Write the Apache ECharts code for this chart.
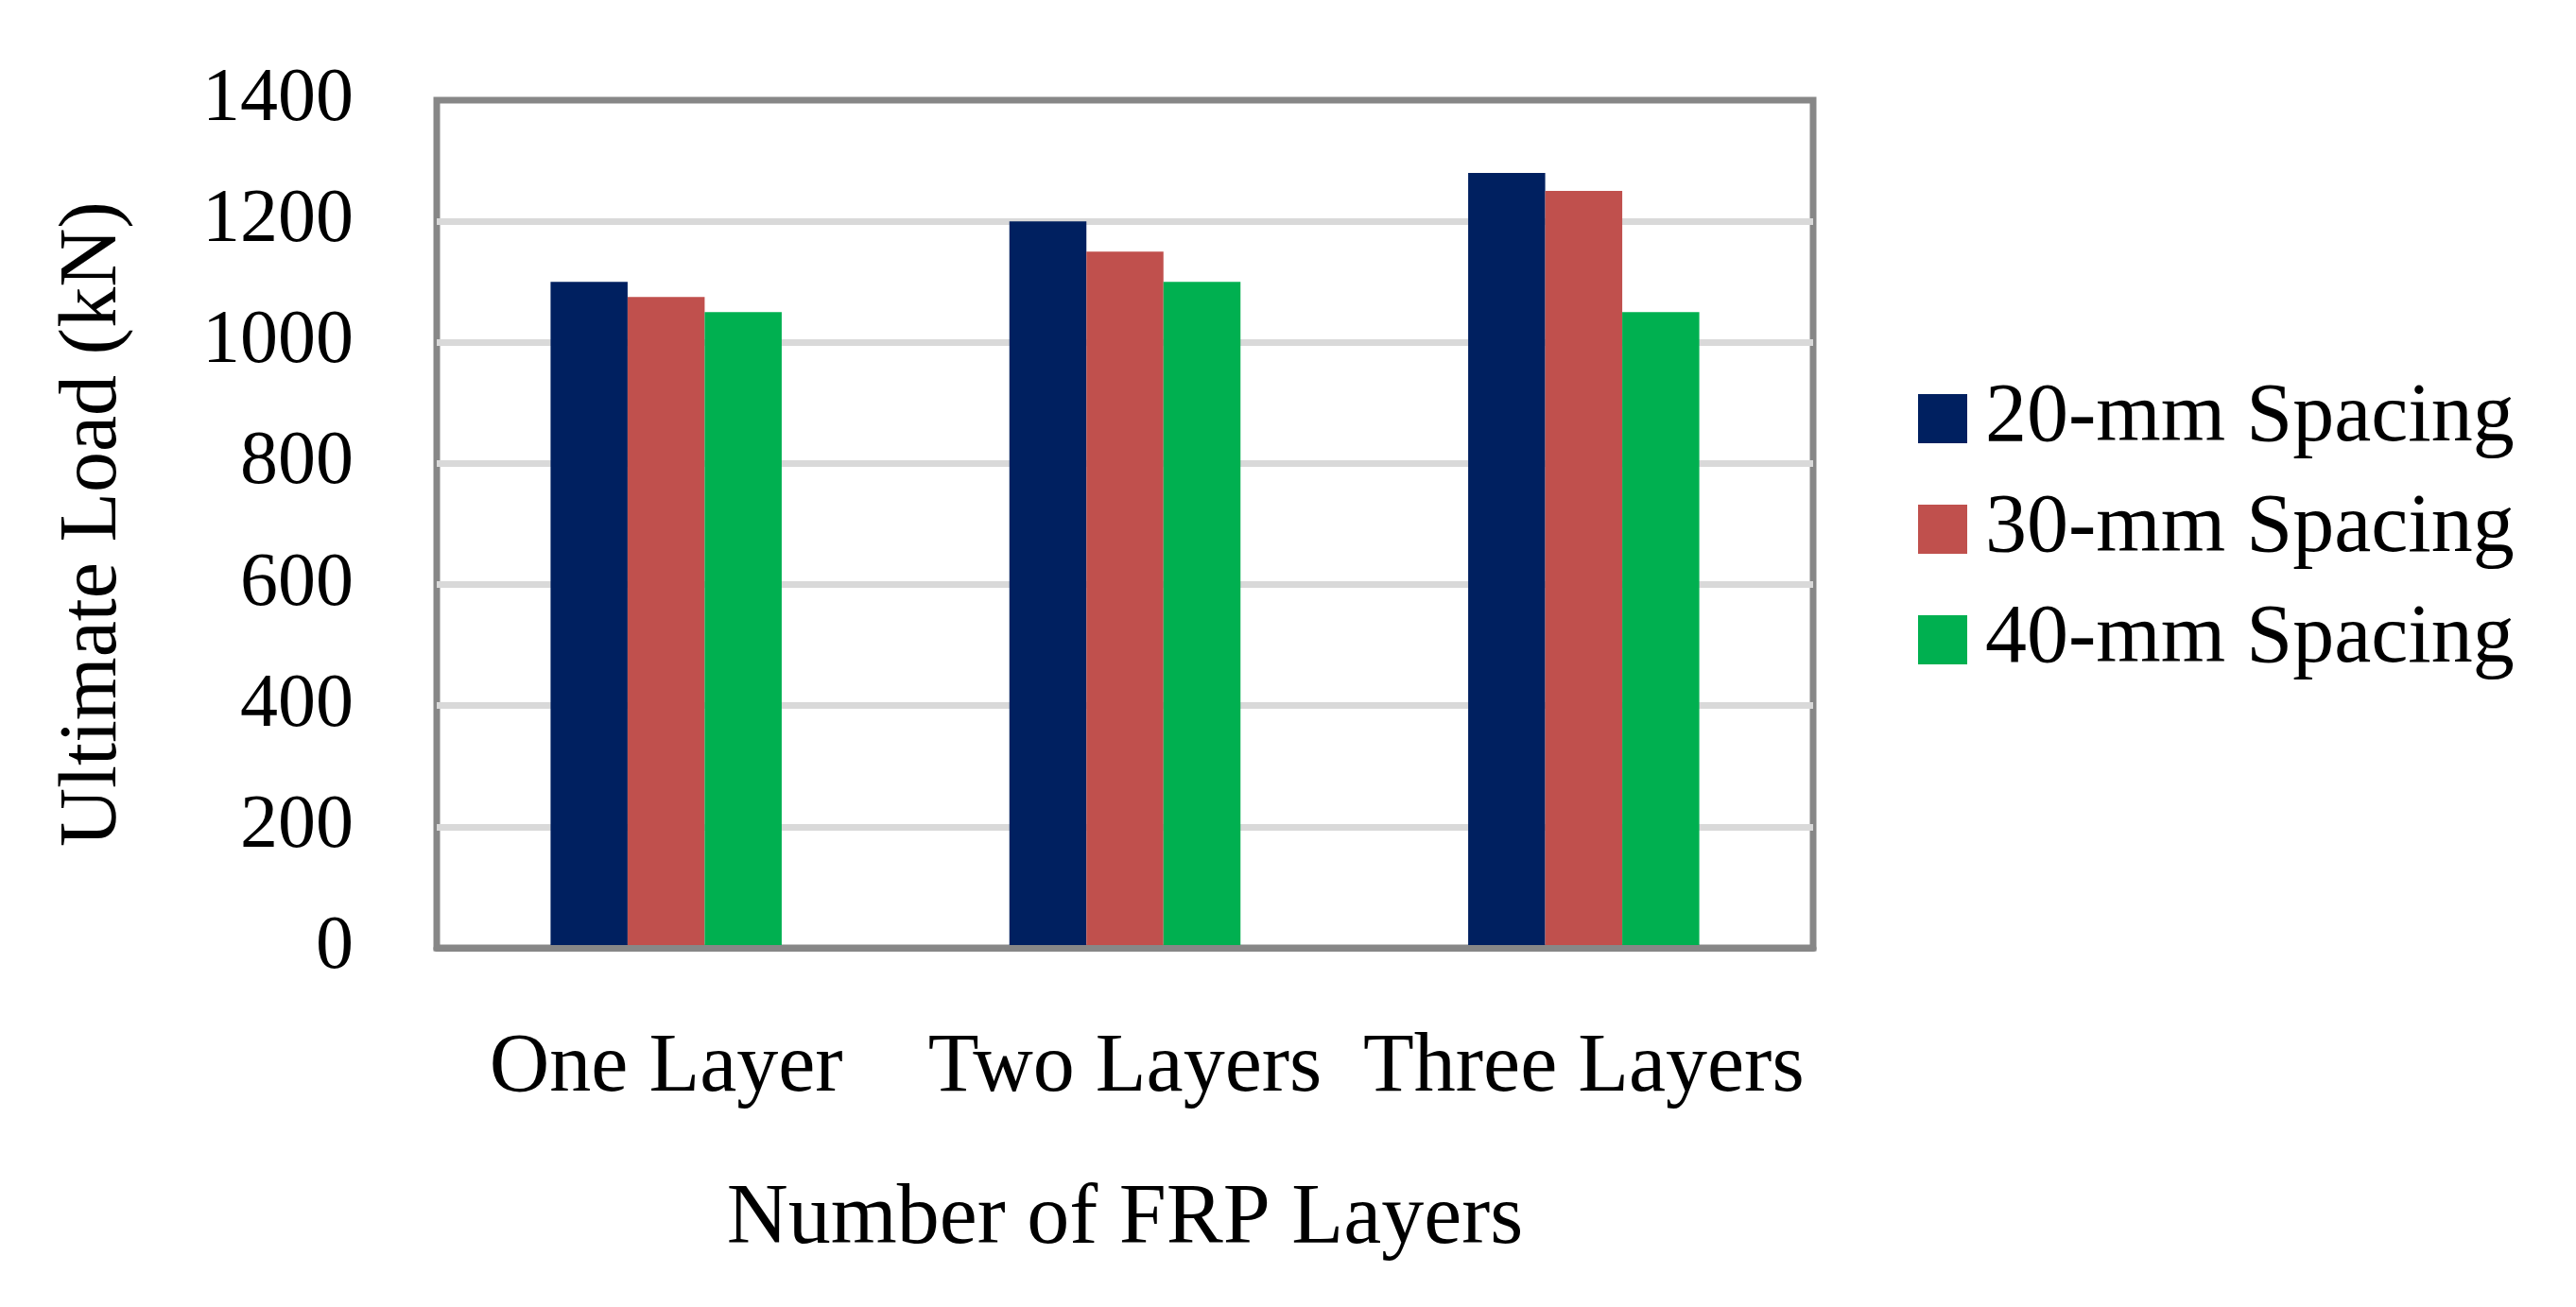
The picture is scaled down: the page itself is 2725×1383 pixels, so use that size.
<!DOCTYPE html>
<html>
<head>
<meta charset="utf-8">
<script src="https://cdn.jsdelivr.net/npm/echarts@6/dist/echarts.min.js"></script>
<style>
  html, body { margin: 0; padding: 0; background: #fff; }
  #chart { width: 2725px; height: 1383px; }
</style>
</head>
<body>
<div id="chart"></div>
<script>
// categories and series values (kN)
const categories = ["One Layer", "Two Layers", "Three Layers"];
const seriesNames = ["20-mm Spacing", "30-mm Spacing", "40-mm Spacing"];
const spacing20 = [1100, 1200, 1280];
const spacing30 = [1075, 1150, 1250];
const spacing40 = [1050, 1100, 1050];
const yTicks = [0, 200, 400, 600, 800, 1000, 1200, 1400];
const colors = ["#002060", "#C0504D", "#00B050"];

const font = "Liberation Serif";
var myChart = echarts.init(document.getElementById("chart"));

const values = [spacing20, spacing30, spacing40];

const option = {
    animation: false,
    color: colors,
    grid: {
        left: 462,
        right: 807,
        top: 106,
        bottom: 380,
        show: true,
        borderColor: "#878787",
        borderWidth: 7,
        backgroundColor: "transparent"
    },
    legend: {
        orient: "vertical",
        left: 2024,
        top: 394,
        itemWidth: 52,
        itemHeight: 52,
        itemGap: 29,
        icon: "rect",
        data: seriesNames,
        textStyle: {
            fontFamily: font,
            fontSize: 88,
            lineHeight: 88,
            color: "#000",
            padding: [0, 0, 0, 14]
        }
    },
    xAxis: {
        type: "category",
        data: categories,
        z: 5,
        axisLine: { show: true, lineStyle: { color: "#878787", width: 7 } },
        axisTick: { show: false },
        axisLabel: {
            fontFamily: font,
            fontSize: 88,
            color: "#000",
            margin: 84,
            interval: 0
        },
        name: "Number of FRP Layers",
        nameLocation: "middle",
        nameGap: 243,
        nameTextStyle: { fontFamily: font, fontSize: 90, color: "#000" }
    },
    yAxis: {
        type: "value",
        min: yTicks[0],
        max: yTicks[yTicks.length - 1],
        interval: yTicks[1] - yTicks[0],
        axisLine: { show: false },
        axisTick: { show: false },
        axisLabel: {
            fontFamily: font,
            fontSize: 80,
            color: "#000",
            margin: 88,
            formatter: function (v) { return String(v); }
        },
        splitLine: {
            show: true,
            showMinLine: false,
            showMaxLine: false,
            lineStyle: { color: "#D9D9D9", width: 7 }
        },
        name: "Ultimate Load (kN)",
        nameLocation: "middle",
        nameRotate: 90,
        nameGap: 320,
        nameTextStyle: { fontFamily: font, fontSize: 86, color: "#000" }
    },
    series: seriesNames.map(function (name, i) {
        return {
            name: name,
            type: "bar",
            data: values[i],
            barWidth: 81.5,
            barGap: "0%",
            itemStyle: { color: colors[i] }
        };
    })
};
myChart.setOption(option);
</script>
</body>
</html>
